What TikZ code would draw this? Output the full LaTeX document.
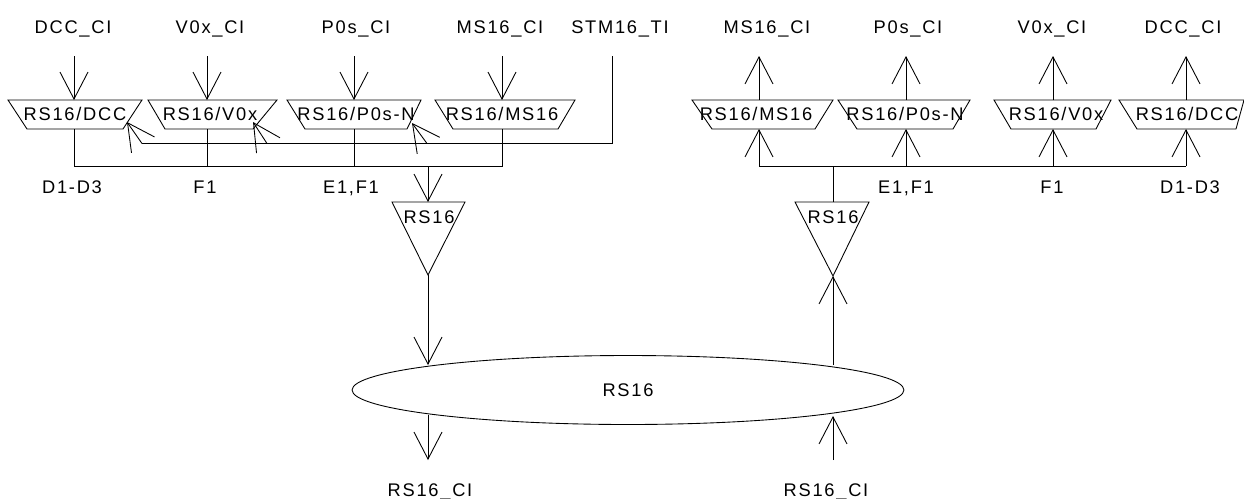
\documentclass[tikz,border=0pt]{standalone}
\usepackage{fontspec}
\setmainfont{Liberation Sans}
\newfontfamily\lbfont[LetterSpace=9.5]{Liberation Sans}
\usetikzlibrary{arrows.meta,calc,shapes.geometric}
\newcommand\mytrap[8]{%
  \draw (#3,100) -- (#4,100) -- (#6,129) -- (#5,129) -- cycle;
  \node[lbl] (#1) at (#7,120) {#8};
  \coordinate (#1-t) at (#2,100);
  \coordinate (#1-b) at (#2,129);
}
\begin{document}
\begin{tikzpicture}[x=0.02cm,y=-0.02cm,line width=0.5pt,line join=miter,
  lbl/.style={font=\lbfont\fontsize{10.4pt}{12pt}\selectfont,inner sep=0pt,anchor=base},
  arr/.style={-{Straight Barb[length=0.54cm,width=0.56cm]}}]
\useasboundingbox (0,0) rectangle (1244,498);

% ---------- top labels ----------
\node[lbl] (lDCC)  at (73,33.5)  {DCC\_CI};
\node[lbl] (lV0x)  at (210,33.5) {V0x\_CI};
\node[lbl] (lP0s)  at (356,33.5) {P0s\_CI};
\node[lbl] (lMS16) at (500,33.5) {MS16\_CI};
\node[lbl] (lSTM)  at (620,33.5) {STM16\_TI};
\node[lbl] (rMS16) at (767,33.5) {MS16\_CI};
\node[lbl] (rP0s)  at (908,33.5) {P0s\_CI};
\node[lbl] (rV0x)  at (1052,33.5) {V0x\_CI};
\node[lbl] (rDCC)  at (1183,33.5) {DCC\_CI};

% ---------- trapezoids ----------
\mytrap{tDCCl}{74}{8}{142}{27}{123}{75}{RS16/DCC}
\mytrap{tV0xl}{207}{148}{277}{165}{253}{210}{RS16/V0x}
\mytrap{tP0sl}{354}{287}{421}{305}{407}{356}{RS16/P0s-N}
\mytrap{tMSl}{502}{435}{575}{453}{558}{502}{RS16/MS16}
\mytrap{tMSr}{759}{692}{833}{712}{815}{756}{RS16/MS16}
\mytrap{tP0sr}{906}{838}{970}{857}{953}{905}{RS16/P0s-N}
\mytrap{tV0xr}{1053}{994}{1111}{1011}{1096}{1056}{RS16/V0x}
\mytrap{tDCCr}{1186}{1119}{1244}{1137}{1236}{1187}{RS16/DCC}

% label anchor coordinates
\foreach \n/\x in {aDCCl/74,aV0xl/207,aP0sl/354,aMSl/502,aSTM/612,aMSr/759,aP0sr/906,aV0xr/1053,aDCCr/1186}
  \coordinate (\n) at (\x,56);

% ---------- left inputs ----------
\draw[arr] (aDCCl) -- (tDCCl-t);
\draw[arr] (aV0xl) -- (tV0xl-t);
\draw[arr] (aP0sl) -- (tP0sl-t);
\draw[arr] (aMSl) -- (tMSl-t);

% ---------- STM16_TI feedback ----------
\coordinate (stmC) at (612,143.5);
\coordinate (fbA) at (142,143.5);
\coordinate (fbB) at (267,143.5);
\coordinate (fbC) at (427,143.5);
\coordinate (tipA) at (127,122);
\coordinate (tipB) at (253,122);
\coordinate (tipC) at (412,123);
\draw (aSTM) -- (stmC) -- (fbA);
\draw[arr] (fbA) -- (tipA);
\draw[arr] (fbB) -- (tipB);
\draw[arr] (fbC) -- (tipC);

% ---------- left bus ----------
\coordinate (busL1) at (74,166);
\coordinate (busL4) at (502,166);
\coordinate (busLs) at (428,166);
\draw (tDCCl-b) -- (busL1) -- (busL4) -- (tMSl-b);
\draw (tV0xl-b) -- (tV0xl-b |- busL1);
\draw (tP0sl-b) -- (tP0sl-b |- busL1);

\node[lbl] (bl1) at (72,193)  {D1-D3};
\node[lbl] (bl2) at (205,193) {F1};
\node[lbl] (bl3) at (351,193) {E1,F1};

% ---------- left triangle ----------
\coordinate (triLt) at (428,202);
\coordinate (triLa) at (428,275);
\draw (392,202) -- (465,202) -- (triLa) -- cycle;
\node[lbl] (triLtext) at (429,223.5) {RS16};
\draw[arr] (busLs) -- (triLt);

% ---------- ellipse ----------
\node[draw,ellipse,minimum width=11.04cm,minimum height=1.38cm,inner sep=0pt,
      font=\lbfont\fontsize{10.4pt}{12pt}\selectfont] (ell) at (628,390) {RS16};
\coordinate (eTL) at (428,365);
\coordinate (eBL) at (428,415);
\coordinate (eTR) at (833,365);
\coordinate (eBR) at (833,416);
\coordinate (outL) at (428,460);
\coordinate (inR) at (833,460);
\draw[arr] (triLa) -- (eTL);
\draw[arr] (eBL) -- (outL);
\draw[arr] (inR) -- (eBR);
\node[lbl] (ciL) at (430,496.5) {RS16\_CI};
\node[lbl] (ciR) at (826,496.5) {RS16\_CI};

% ---------- right triangle ----------
\coordinate (triRt) at (833,202);
\coordinate (triRa) at (833,276);
\draw (795,202) -- (869,202) -- (triRa) -- cycle;
\node[lbl] (triRtext) at (833,223.5) {RS16};
\draw[arr] (eTR) -- (triRa);

% ---------- right bus ----------
\coordinate (busR1) at (759,166);
\coordinate (busR4) at (1186,166);
\draw (busR1) -- (busR4);
\draw (triRt) -- (triRt |- busR1);
\draw[arr] (busR1) -- (tMSr-b);
\draw[arr] (tP0sr-b |- busR1) -- (tP0sr-b);
\draw[arr] (tV0xr-b |- busR1) -- (tV0xr-b);
\draw[arr] (busR4) -- (tDCCr-b);

\draw[arr] (tMSr-t) -- (aMSr);
\draw[arr] (tP0sr-t) -- (aP0sr);
\draw[arr] (tV0xr-t) -- (aV0xr);
\draw[arr] (tDCCr-t) -- (aDCCr);

\node[lbl] (br1) at (906,193)  {E1,F1};
\node[lbl] (br2) at (1052,193) {F1};
\node[lbl] (br3) at (1190,193) {D1-D3};
\end{tikzpicture}
\end{document}
